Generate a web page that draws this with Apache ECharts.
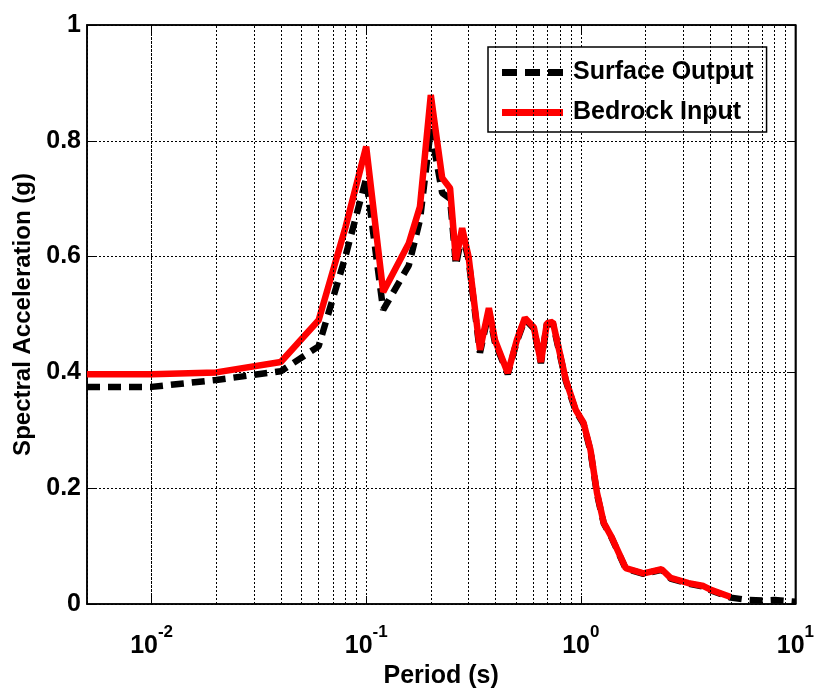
<!DOCTYPE html>
<html><head><meta charset="utf-8">
<script src="https://cdn.jsdelivr.net/npm/echarts@6/dist/echarts.min.js"></script>
<style>html,body{margin:0;padding:0;background:#fff}#c{width:817px;height:698px}</style>
</head><body><div id="c"></div>
<script>
const periods = [0.005,0.01,0.02,0.04,0.06,0.08,0.1,0.12,0.158,0.178,0.2,0.226,0.246,0.262,0.28,0.30,0.339,0.373,0.398,0.457,0.504,0.549,0.604,0.652,0.695,0.741,0.852,0.948,1.03,1.11,1.19,1.28,1.39,1.62,1.96,2.38,2.62,3.18,3.73,4.07,5.0,6,7,8,10];
const surfaceOutput = [0.375,0.375,0.387,0.402,0.445,0.60,0.735,0.508,0.585,0.663,0.82,0.71,0.70,0.585,0.64,0.595,0.434,0.505,0.452,0.397,0.454,0.492,0.476,0.416,0.483,0.485,0.385,0.333,0.311,0.264,0.19,0.139,0.115,0.061,0.052,0.059,0.044,0.035,0.03,0.023,0.011,0.007,0.006,0.007,0.004];
const bedrockInput = [0.397,0.397,0.40,0.418,0.49,0.65,0.79,0.539,0.623,0.686,0.879,0.736,0.718,0.594,0.649,0.60,0.439,0.511,0.456,0.399,0.456,0.494,0.478,0.418,0.485,0.487,0.387,0.335,0.313,0.266,0.192,0.14,0.116,0.062,0.053,0.06,0.045,0.036,0.031,0.024,0.012,null,null,null,null];
const minorGrid = [0.006,0.007,0.008,0.009,0.02,0.03,0.04,0.05,0.06,0.07,0.08,0.09,0.2,0.3,0.4,0.5,0.6,0.7,0.8,0.9,2,3,4,5,6,7,8,9];
const seriesNames = ['Surface Output','Bedrock Input'];
const xTitle = 'Period (s)';
const yTitle = 'Spectral Acceleration (g)';

const FONT = 'Liberation Sans';
const chart = echarts.init(document.getElementById('c'));
const pair = (arr) => periods.map((p,i) => [p, arr[i]]);
const gridStyle = {color:'#000', type:[2,2], width:1};
const boldText = (size) => ({fontFamily:FONT,fontWeight:'bold',fontSize:size,color:'#000'});
const xBase = {
  type:'log', logBase:10, min:0.005, max:10,
  axisLine:{show:true,onZero:false,lineStyle:{color:'#000',width:1.5}},
  axisTick:{show:true,inside:true,length:8,lineStyle:{color:'#000',width:1}}
};
const yBase = {
  type:'value', min:0, max:1, interval:0.2,
  axisLine:{show:true,onZero:false,lineStyle:{color:'#000',width:1.5}},
  axisTick:{show:true,inside:true,length:8,lineStyle:{color:'#000',width:1}}
};
chart.setOption({
  animation:false,
  backgroundColor:'#fff',
  textStyle:{fontFamily:FONT},
  grid:{left:87,right:20,top:25,bottom:94,show:true,borderColor:'#000',borderWidth:1.5,backgroundColor:'transparent'},
  legend:{
    orient:'vertical', left:488, top:47, padding:[13,13,7,14], itemGap:15,
    itemWidth:61, itemHeight:7, backgroundColor:'#fff', borderColor:'#000', borderWidth:1.5,
    textStyle:Object.assign(boldText(25),{padding:[0,0,0,5]}),
    data:[
      {name:seriesNames[0], icon:'path://M0,0H15V7H0Z M23,0H38V7H23Z M46,0H61V7H46Z', itemStyle:{color:'#000'}},
      {name:seriesNames[1], icon:'rect', itemStyle:{color:'#ff0000'}}
    ]
  },
  xAxis:[
    Object.assign({}, xBase, {
      position:'bottom',
      name:xTitle, nameLocation:'middle', nameGap:53,
      nameTextStyle:boldText(25),
      splitLine:{show:true,lineStyle:gridStyle},
      axisLabel:{
        showMinLabel:false, margin:20, color:'#000',
        formatter:(v)=>'{b|10}{s|'+Math.round(Math.log10(v))+'}',
        rich:{b:Object.assign(boldText(25),{verticalAlign:'bottom'}),
              s:Object.assign(boldText(17),{verticalAlign:'top',padding:[0,0,18,0]})}
      }
    }),
    Object.assign({}, xBase, {position:'top', axisLabel:{show:false}, splitLine:{show:false}})
  ],
  yAxis:[
    Object.assign({}, yBase, {
      position:'left',
      name:yTitle, nameLocation:'middle', nameGap:52,
      nameTextStyle:boldText(24),
      splitLine:{show:true,lineStyle:gridStyle},
      axisLabel:Object.assign(boldText(25),{margin:6,formatter:(v)=>String(+v.toFixed(1))})
    }),
    Object.assign({}, yBase, {position:'right', axisLabel:{show:false}, splitLine:{show:false}})
  ],
  series:[
    {
      name:'grid-minor', type:'line', data:[], silent:true,
      markLine:{silent:true,symbol:'none',label:{show:false},lineStyle:gridStyle,
        data:minorGrid.map(v=>({xAxis:v}))}
    },
    {
      name:seriesNames[0], type:'line', data:pair(surfaceOutput), showSymbol:false, symbol:'none',
      lineStyle:{color:'#000',width:6.5,type:[13,8]}, itemStyle:{color:'#000'}, z:3
    },
    {
      name:seriesNames[1], type:'line', data:pair(bedrockInput), showSymbol:false, symbol:'none', connectNulls:false,
      lineStyle:{color:'#ff0000',width:6.5}, itemStyle:{color:'#ff0000'}, z:4
    }
  ]
});
</script></body></html>
